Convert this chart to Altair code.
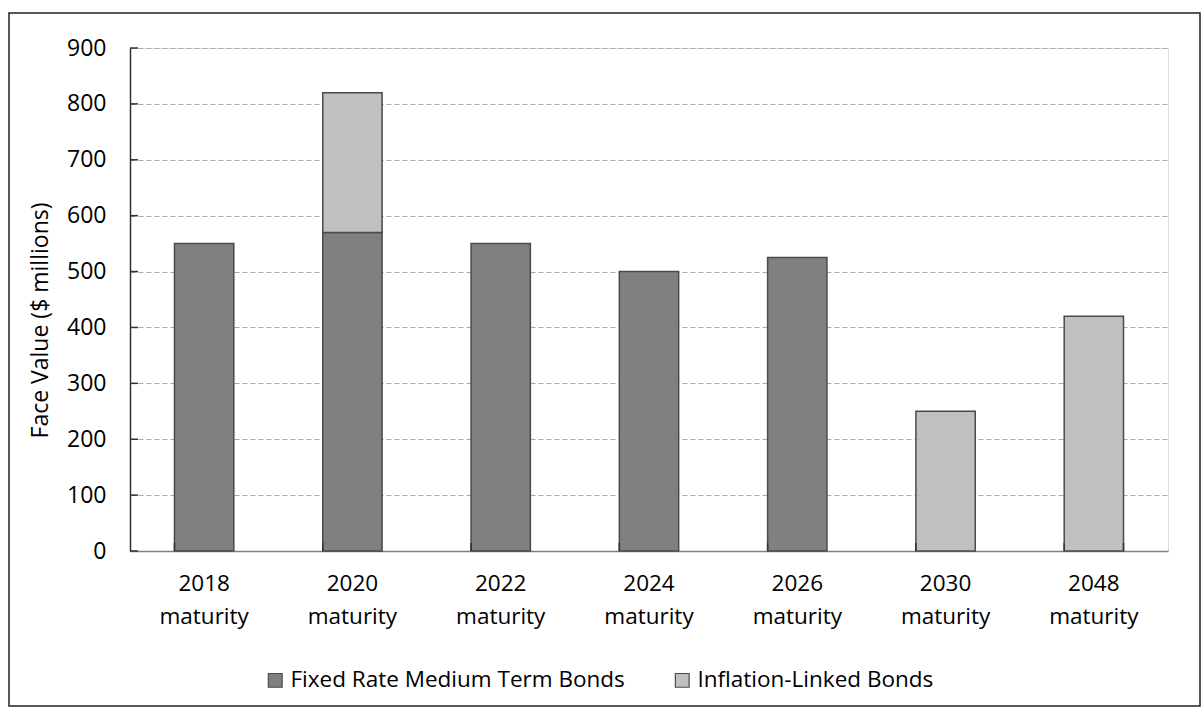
import altair as alt
import pandas as pd

categories = ["2018 maturity", "2020 maturity", "2022 maturity", "2024 maturity",
              "2026 maturity", "2030 maturity", "2048 maturity"]
fixed_rate = [550, 570, 550, 500, 525, 0, 0]
inflation_linked = [0, 250, 0, 0, 0, 250, 420]
series_names = ["Fixed Rate Medium Term Bonds", "Inflation-Linked Bonds"]
series_colors = ["#808080", "#c0c0c0"]
y_ticks = [0, 100, 200, 300, 400, 500, 600, 700, 800, 900]

rows = []
for c, f, i in zip(categories, fixed_rate, inflation_linked):
    if f:
        rows.append({"cat": c, "series": series_names[0], "value": f, "ord": 0})
    if i:
        rows.append({"cat": c, "series": series_names[1], "value": i, "ord": 1})
df = pd.DataFrame(rows)

W, H = 1038, 503
FONT = "Open Sans"

xscale = alt.Scale(domain=categories, paddingInner=0.6, paddingOuter=0.3)

bars = alt.Chart(df).mark_bar(stroke="#4a4a4a", strokeWidth=1.5).encode(
    x=alt.X("cat:N", scale=xscale, sort=categories,
            axis=alt.Axis(title=None, labelAngle=0, labelExpr="split(datum.label, ' ')",
                          labelFontSize=22.5, labelColor="#000", labelFont=FONT,
                          labelPadding=21, labelLineHeight=33, ticks=False,
                          domainColor="#808080", domainWidth=1.5)),
    y=alt.Y("value:Q", stack="zero",
            scale=alt.Scale(domain=[0, 900]),
            axis=alt.Axis(title="Face Value ($ millions)", values=y_ticks, ticks=False,
                          labelFontSize=23, labelColor="#000", labelFont=FONT, labelPadding=24,
                          titleFontSize=23, titleFont=FONT, titleFontWeight="normal",
                          titleColor="#000", titleX=-78, titleY=272,
                          grid=True, gridDash=[5, 3], gridColor="#a8a8a8", gridWidth=1,
                          domainColor="#333333", domainWidth=1.5)),
    color=alt.Color("series:N", scale=alt.Scale(domain=series_names, range=series_colors),
                    legend=alt.Legend(title=None, orient="none", direction="horizontal",
                                      legendX=134, legendY=621, symbolType="square",
                                      symbolSize=190, symbolStrokeColor="#4a4a4a",
                                      symbolStrokeWidth=1.2, labelFontSize=22.5,
                                      labelFont=FONT, labelColor="#000", labelLimit=0,
                                      columnPadding=46, labelOffset=4)),
    order=alt.Order("ord:Q"),
)

xt = alt.Chart(pd.DataFrame({"cat": categories})).mark_rule(color="#333333", strokeWidth=1.5).encode(
    x=alt.X("cat:N", scale=xscale, sort=categories, bandPosition=0),
    y=alt.value(H - 8), y2=alt.value(H),
)
xt_end = alt.Chart(pd.DataFrame({"cat": [categories[-1]]})).mark_rule(color="#333333", strokeWidth=1.5).encode(
    x=alt.X("cat:N", scale=xscale, sort=categories, bandPosition=1),
    y=alt.value(H - 8), y2=alt.value(H),
)
yt = alt.Chart(pd.DataFrame({"v": y_ticks})).mark_rule(color="#333333", strokeWidth=1.5).encode(
    y=alt.Y("v:Q", scale=alt.Scale(domain=[0, 900])),
    x=alt.value(0), x2=alt.value(8),
)

border = alt.Chart(pd.DataFrame({"a": [0]})).mark_rect(
    fillOpacity=0, stroke="#222222", strokeWidth=1.5
).encode(
    x=alt.value(-121), x2=alt.value(1070),
    y=alt.value(-35), y2=alt.value(658),
)

chart = alt.layer(border, bars, xt, xt_end, yt).properties(
    width=W, height=H,
    padding={"left": 8, "top": 12, "right": 0, "bottom": 0},
).configure_view(stroke=None).configure(font=FONT)

chart.save("out.html", embed_options={"renderer": "svg", "actions": False})
